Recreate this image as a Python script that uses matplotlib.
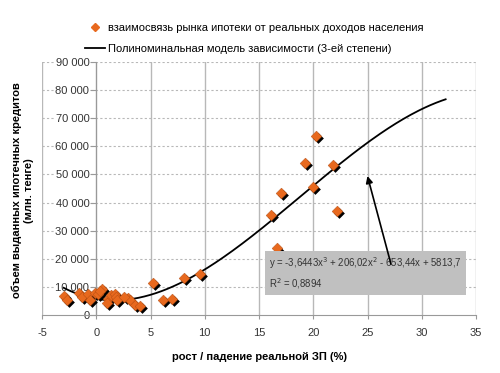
import matplotlib
matplotlib.use("Agg")
import matplotlib.pyplot as plt
import numpy as np
from matplotlib.lines import Line2D
import matplotlib.transforms as mtransforms

plt.rcParams['font.family'] = ['Liberation Sans', 'DejaVu Sans']
plt.rcParams['axes.unicode_minus'] = False

# Data: real wage growth (%) vs mortgage loans issued (mln tenge)
wage_growth = [-2.97, -2.66, -1.56, -1.34, -0.73, -0.58, -0.12, 0.19, 0.56, 0.35,
               1.12, 1.36, 1.73, 1.82, 1.94, 1.0, 2.96, 3.11, 3.57, 4.03, 2.6,
               5.26, 6.18, 6.95, 8.09, 9.56,
               16.01, 16.69, 16.07, 17.03, 19.24, 20.22, 20.0, 21.79, 22.22]
loans = [6900, 5300, 7900, 6500, 7400, 5300, 7900, 7700, 9200, 8500,
         5900, 7100, 7700, 6500, 5300, 4200, 6200, 5300, 3600, 3200, 6600,
         11300, 5300, 5900, 13300, 14800,
         20800, 23700, 35600, 43300, 54000, 63800, 45700, 53400, 37100]

# Cubic trend coefficients (as shown on chart)
coef = [-3.6443, 206.02, -653.44, 5813.7]
trend_x_range = [-3.0, 32.2]

xticks = list(range(-5, 36, 5))
yticks = list(range(0, 90001, 10000))

fig = plt.figure(figsize=(5, 3.73), dpi=100)
ax = fig.add_axes([0.084, 0.155, 0.868, 0.679])
ax.set_xlim(-5, 35)
ax.set_ylim(0, 90000)

grid_c = '#b8b8b8'
for xv in xticks:
    ax.axvline(xv, color=grid_c, lw=1.0, zorder=0)
for yv in yticks[1:]:
    ax.axhline(yv, color=grid_c, lw=0.8, ls=(0, (2, 2)), zorder=0)

for s in ['top', 'right']:
    ax.spines[s].set_visible(False)
ax.spines['left'].set_position(('data', 0))
ax.spines['left'].set_color('#999999')
ax.spines['bottom'].set_color('#999999')

ax.set_xticks(xticks)
ax.set_yticks(yticks)
ax.set_yticklabels([f"{v:,}".replace(",", " ") for v in yticks])
ax.tick_params(axis='y', direction='out', length=4, color='#999999', labelsize=8, pad=1, labelcolor='#333333')
ax.tick_params(axis='x', direction='out', length=3, color='#999999', labelsize=8, pad=6, labelcolor='#333333')
for lab in ax.get_yticklabels():
    lab.set_bbox(dict(facecolor='white', edgecolor='none', pad=0.5))

# trend line
xs = np.linspace(trend_x_range[0], trend_x_range[1], 200)
ys = np.polyval(coef, xs)
ax.plot(xs, ys, color='black', lw=1.3, zorder=3)

# scatter with shadow
shadow = mtransforms.offset_copy(ax.transData, fig=fig, x=1.5, y=-1.5, units='points')
ax.scatter(wage_growth, loans, marker='D', s=30, color='black', transform=shadow, zorder=4, linewidths=0)
ax.scatter(wage_growth, loans, marker='D', s=30, color='#e8691e', edgecolors='#b04a10', linewidths=0.3, zorder=5)

# equation box
ax.text(15.95, 21200, "y = -3,6443x$^3$ + 206,02x$^2$ - 653,44x + 5813,7\nR$^2$ = 0,8894",
        fontsize=6.9, color='#333333', va='top', ha='left', linespacing=1.45, zorder=6,
        bbox=dict(facecolor='#c0c0c0', edgecolor='none', pad=3))
ax.annotate('', xy=(24.93, 50400), xytext=(27.23, 17200),
            arrowprops=dict(arrowstyle='-|>', color='black', lw=1.2, mutation_scale=10), zorder=7)

ax.set_xlabel('рост / падение реальной ЗП (%)', fontsize=8, fontweight='bold', labelpad=10)
fig.text(0.045, 0.49, 'объем выданных ипотечных кредитов\n(млн. тенге)', rotation=90,
         fontsize=8, fontweight='bold', ha='center', va='center', linespacing=1.2)

handles = [Line2D([], [], marker='D', color='#e8691e', ls='none', markersize=4),
           Line2D([], [], color='black', lw=1.3)]
labels = ['взаимосвязь рынка ипотеки от реальных доходов населения',
          'Полиноминальная модель зависимости (3-ей степени)']
fig.legend(handles, labels, loc='upper left', bbox_to_anchor=(0.15, 0.965), frameon=False,
           fontsize=8, handlelength=1.8, handletextpad=0.3, labelspacing=0.95)

fig.savefig('out.png', dpi=100)
